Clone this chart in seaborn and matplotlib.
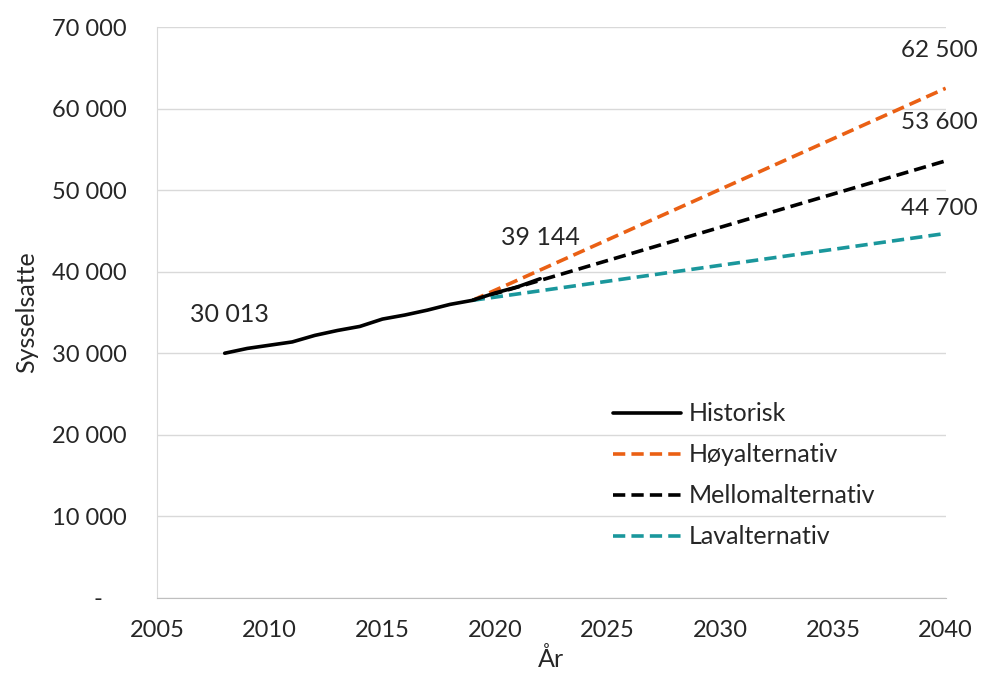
import matplotlib
matplotlib.use("Agg")
import matplotlib.pyplot as plt
import matplotlib.ticker as mticker
import seaborn as sns

# Historisk sysselsetting (lest av figuren)
hist_years = [2008, 2009, 2010, 2011, 2012, 2013, 2014, 2015, 2016, 2017, 2018, 2019, 2020, 2021, 2022]
hist_values = [30013, 30600, 31000, 31400, 32200, 32800, 33300, 34200, 34700, 35300, 36000, 36500,
               37400, 38150, 39144]

# Framskrivinger 2019 -> 2040
proj_years = [2019, 2040]
high_values = [36500, 62500]
mid_values = [36500, 53600]
low_values = [36500, 44700]

series_names = ["Historisk", "Høyalternativ", "Mellomalternativ", "Lavalternativ"]
end_labels = ["62 500", "53 600", "44 700"]

ORANGE = "#EA6014"
TEAL = "#1A979C"

sns.set_style("white")
plt.rcParams["font.family"] = ["Lato", "DejaVu Sans"]

fig = plt.figure(figsize=(9.82, 6.78), dpi=100)
ax = fig.add_axes([0.16, 0.118, 0.803, 0.842])

LW = 2.6
dash = (3.4, 1.7)
sns.lineplot(x=proj_years, y=high_values, ax=ax, color=ORANGE, linewidth=LW,
             label=series_names[1]).lines[-1].set_dashes(dash)
sns.lineplot(x=proj_years, y=mid_values, ax=ax, color="black", linewidth=LW,
             label=series_names[2]).lines[-1].set_dashes(dash)
sns.lineplot(x=proj_years, y=low_values, ax=ax, color=TEAL, linewidth=LW,
             label=series_names[3]).lines[-1].set_dashes(dash)
sns.lineplot(x=hist_years, y=hist_values, ax=ax, color="black", linewidth=LW,
             label=series_names[0])

ax.set_xlim(2005, 2040)
ax.set_ylim(0, 70000)
ax.set_xticks(range(2005, 2041, 5))
ax.set_yticks(range(0, 70001, 10000))
ax.yaxis.set_major_formatter(mticker.FuncFormatter(
    lambda v, p: "-    " if v == 0 else f"{int(v):,}".replace(",", " ")))
ax.tick_params(axis="both", labelsize=17, length=0)
ax.tick_params(axis="y", pad=22)
ax.tick_params(axis="x", pad=16)
ax.grid(axis="y", color="#d9d9d9", linewidth=1)
ax.set_axisbelow(True)
for s in ["top", "right"]:
    ax.spines[s].set_visible(False)
ax.spines["left"].set_color("#d9d9d9")
ax.spines["bottom"].set_color("#bfbfbf")

ax.set_xlabel("År", fontsize=18, labelpad=4)
ax.set_ylabel("Sysselsatte", fontsize=18, labelpad=10)

# Verdietiketter
fmt = lambda v: f"{v:,}".replace(",", " ")
ax.text(hist_years[0] + 0.2, 33800, fmt(hist_values[0]), fontsize=18, ha="center")
ax.text(hist_years[-1], 43300, fmt(hist_values[-1]), fontsize=18, ha="center")
for lab, yv in zip(end_labels, [66300, 57500, 47000]):
    ax.annotate(lab, xy=(2040, yv), xytext=(23, 0), textcoords="offset points",
                fontsize=17.5, ha="right", va="baseline", annotation_clip=False)

handles, labels = ax.get_legend_handles_labels()
order = [labels.index(n) for n in series_names]
ax.legend([handles[i] for i in order], [labels[i] for i in order],
          loc="upper left", bbox_to_anchor=(0.55, 0.382), frameon=False,
          fontsize=18, handlelength=2.7, labelspacing=0.72, handletextpad=0.3)

fig.savefig("out.png", dpi=100)
